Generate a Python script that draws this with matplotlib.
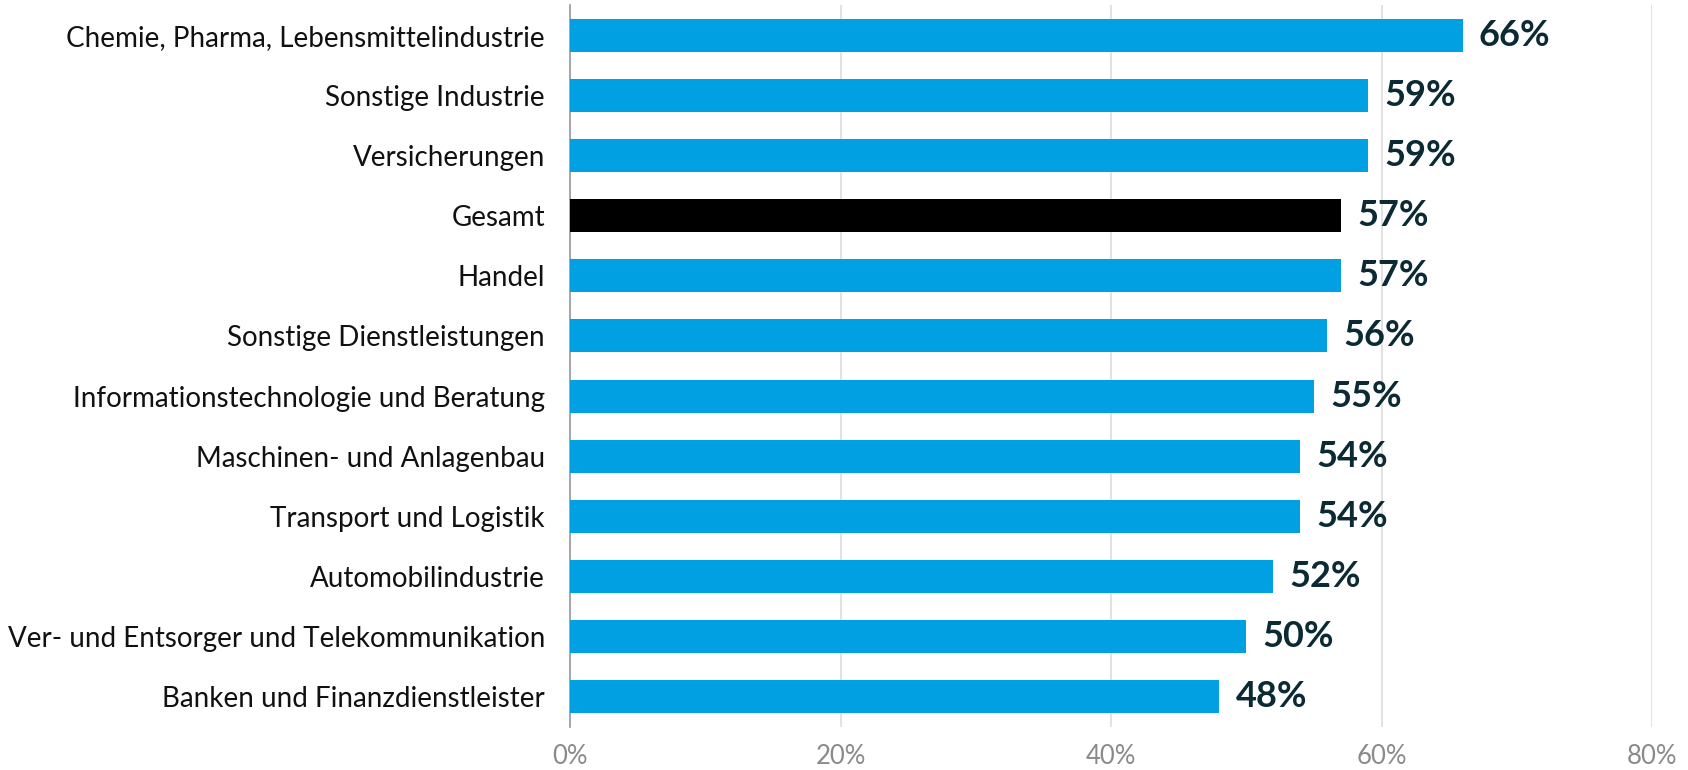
import matplotlib.pyplot as plt
from matplotlib.ticker import FuncFormatter

categories = [
    "Chemie, Pharma, Lebensmittelindustrie",
    "Sonstige Industrie",
    "Versicherungen",
    "Gesamt",
    "Handel",
    "Sonstige Dienstleistungen",
    "Informationstechnologie und Beratung",
    "Maschinen- und Anlagenbau",
    "Transport und Logistik",
    "Automobilindustrie",
    "Ver- und Entsorger und Telekommunikation",
    "Banken und Finanzdienstleister",
]
values = [66, 59, 59, 57, 57, 56, 55, 54, 54, 52, 50, 48]
highlight = "Gesamt"
x_ticks = [0, 20, 40, 60, 80]

blue = "#00a0e3"
plt.rcParams['font.family'] = ['Lato', 'DejaVu Sans']

fig = plt.figure(figsize=(16.88, 7.7), dpi=100)
ax = fig.add_axes([570 / 1688, 43 / 770, 1082 / 1688, 722 / 770])

y = list(range(len(categories)))[::-1]
colors = ["black" if c == highlight else blue for c in categories]
ax.barh(y, values, height=0.55, color=colors, zorder=3)

for yi, v in zip(y, values):
    ax.text(v + 1.2, yi, f"{v}%", va="center", ha="left", fontsize=26,
            fontweight="bold", color="#0b2a33")

ax.set_yticks(y)
ax.set_yticklabels(categories, fontsize=20, color="#111111")
ax.set_xticks(x_ticks)
ax.xaxis.set_major_formatter(FuncFormatter(lambda v, p: f"{v:.0f}%"))
ax.tick_params(axis="x", labelsize=18.5, labelcolor="#8a8a8a", length=0, pad=12)
ax.tick_params(axis="y", length=0, pad=18)
ax.set_xlim(0, 80)
ax.set_ylim(-0.5, len(categories) - 0.5)
ax.grid(axis="x", color="#dddddd", linewidth=1.2, zorder=0)
for s in ["top", "right", "bottom"]:
    ax.spines[s].set_visible(False)
ax.spines["left"].set_color("#999999")
ax.spines["left"].set_linewidth(1.2)

fig.savefig("out.png", dpi=100)
